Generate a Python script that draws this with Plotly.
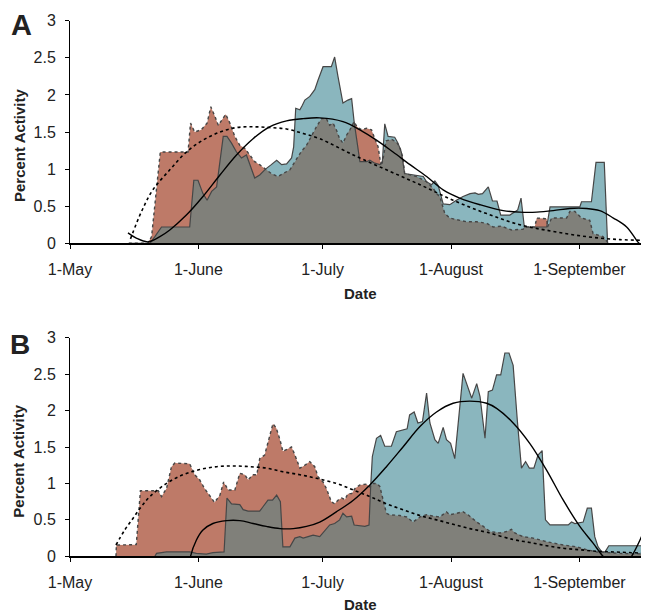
import numpy as np
import plotly.graph_objects as go

# ---------------- data (x = days since 1-May) ----------------
a_red_day = [14.2, 18.8, 19.7, 21.8, 28.5, 29.1, 30.1, 31.7, 33.1, 34.0, 35.0, 35.8, 37.6, 38.6, 39.8, 41.0, 42.2, 43.4, 44.6, 45.8, 47.2, 48.6, 50.2, 51.4, 53.1, 54.3, 55.1, 55.9, 57.1, 58.3, 59.5, 60.7, 61.9, 62.7, 63.5, 64.3, 65.1, 65.9, 66.8, 67.6, 68.6, 69.3, 70.4, 71.6, 72.8, 73.6, 74.4, 75.0, 75.5, 76.3, 77.7, 78.9, 79.6, 80.4, 80.8, 83.7, 86.1, 87.7, 88.5, 89.3, 90.5, 91.7, 93.3, 95.7, 98.2, 100.6, 102.2, 104.2, 106.6, 109.4, 109.8, 112.2, 112.7, 115.1, 115.3, 116.3, 119.9, 120.7, 121.9, 123.5, 125.5, 126.3, 128.7, 129.7, 130.0]
a_red_val = [0, 0, 0.09, 1.23, 1.23, 1.62, 1.50, 1.53, 1.62, 1.84, 1.71, 1.59, 1.74, 1.62, 1.44, 1.32, 1.28, 1.19, 1.10, 1.06, 1.00, 0.94, 0.90, 0.94, 0.99, 1.10, 1.18, 1.24, 1.32, 1.45, 1.57, 1.68, 1.68, 1.59, 1.62, 1.53, 1.41, 1.35, 1.46, 1.53, 1.64, 1.57, 1.53, 1.55, 1.53, 1.41, 1.30, 1.08, 1.10, 1.38, 1.40, 1.36, 1.30, 1.15, 0.94, 0.90, 0.83, 0.74, 0.67, 0.63, 0.40, 0.34, 0.32, 0.29, 0.29, 0.27, 0.22, 0.23, 0.18, 0.19, 0.22, 0.22, 0.34, 0.33, 0.22, 0.34, 0.34, 0.43, 0.43, 0.34, 0.31, 0.13, 0.09, 0.02, 0]

a_blue_day = [14.2, 19.3, 20.5, 22.1, 28.9, 29.9, 30.9, 32.1, 33.1, 34.2, 35.4, 37.0, 37.9, 39.0, 40.2, 41.4, 42.6, 43.8, 44.6, 45.8, 47.2, 48.6, 49.9, 51.1, 52.3, 53.5, 54.0, 54.5, 55.5, 56.1, 56.7, 57.9, 59.1, 59.9, 61.1, 63.1, 63.9, 64.7, 65.9, 67.1, 68.0, 68.6, 70.0, 71.6, 72.4, 73.6, 74.8, 75.4, 76.0, 76.8, 78.4, 79.2, 80.0, 80.8, 83.3, 85.3, 86.1, 87.3, 88.1, 88.9, 90.1, 91.7, 93.3, 94.9, 96.6, 97.8, 98.6, 99.6, 101.0, 102.0, 103.1, 104.0, 106.2, 108.1, 108.9, 109.7, 115.1, 115.9, 123.1, 123.5, 125.9, 127.0, 129.0, 129.8]
a_blue_val = [0, 0, 0.09, 0.22, 0.22, 0.85, 0.85, 0.67, 0.58, 0.70, 0.76, 1.44, 1.44, 1.35, 1.23, 1.15, 1.19, 0.99, 0.88, 0.92, 1.00, 1.06, 1.12, 1.06, 1.07, 1.15, 1.30, 1.82, 1.80, 1.86, 1.93, 1.98, 2.07, 2.20, 2.38, 2.38, 2.51, 2.25, 1.89, 1.93, 1.95, 1.64, 1.10, 1.10, 1.12, 1.08, 1.06, 1.08, 1.61, 1.44, 1.43, 1.35, 1.23, 0.94, 0.92, 0.90, 0.83, 0.79, 0.84, 0.78, 0.53, 0.52, 0.58, 0.63, 0.67, 0.68, 0.66, 0.67, 0.76, 0.57, 0.57, 0.38, 0.38, 0.45, 0.61, 0.22, 0.22, 0.49, 0.49, 0.56, 0.56, 1.09, 1.09, 0]

a_redfit_day = [14.6, 17.2, 20.0, 24.1, 28.1, 32.1, 36.2, 40.2, 44.2, 48.2, 52.3, 56.3, 60.3, 68.4, 76.4, 84.5, 92.5, 100.6, 108.6, 116.7, 124.7, 132.8, 139.8]
a_redfit_val = [0.06, 0.42, 0.72, 0.99, 1.23, 1.39, 1.50, 1.56, 1.57, 1.56, 1.54, 1.48, 1.41, 1.19, 0.99, 0.79, 0.58, 0.40, 0.25, 0.16, 0.09, 0.05, 0.04]

a_bluefit_day = [14.0, 16.0, 18.8, 21.7, 24.1, 28.1, 32.1, 36.2, 40.2, 44.2, 48.2, 52.3, 56.3, 60.3, 65.9, 70.0, 74.0, 78.0, 82.1, 86.1, 90.1, 94.1, 99.0, 104.6, 108.6, 112.7, 116.7, 120.7, 124.7, 127.9, 131.2, 134.4, 136.8, 137.4]
a_bluefit_val = [0.14, 0.07, 0.02, 0.09, 0.18, 0.38, 0.63, 0.92, 1.19, 1.41, 1.57, 1.65, 1.68, 1.69, 1.64, 1.53, 1.39, 1.23, 1.06, 0.90, 0.72, 0.61, 0.52, 0.44, 0.42, 0.42, 0.44, 0.47, 0.47, 0.44, 0.34, 0.22, 0.04, 0.0]

b_red_day = [11.1, 11.2, 16.0, 17.0, 21.3, 22.1, 23.3, 24.5, 25.3, 28.9, 30.1, 31.3, 32.5, 33.7, 34.9, 36.2, 37.1, 38.2, 39.8, 41.0, 42.2, 43.0, 44.2, 45.1, 45.8, 47.0, 47.8, 49.0, 49.8, 50.7, 51.4, 53.5, 54.3, 55.5, 56.7, 57.9, 59.1, 59.9, 61.1, 61.9, 62.5, 63.1, 63.9, 64.7, 65.6, 66.4, 67.1, 68.0, 68.8, 70.0, 71.6, 72.4, 73.2, 74.0, 74.8, 75.6, 76.4, 77.2, 79.6, 81.3, 82.8, 84.5, 86.1, 87.7, 89.3, 90.9, 91.7, 93.3, 94.9, 96.1, 98.2, 99.8, 101.4, 103.8, 105.4, 106.6, 107.4, 109.4, 111.8, 115.1, 119.1, 122.3, 124.7, 127.2, 129.6, 132.8, 139.8]
b_red_val = [0, 0.155, 0.16, 0.90, 0.90, 0.82, 0.93, 1.23, 1.28, 1.27, 1.12, 1.05, 0.93, 0.84, 0.74, 0.84, 1.02, 0.91, 0.91, 1.14, 1.12, 1.05, 1.12, 1.12, 1.34, 1.39, 1.55, 1.82, 1.76, 1.60, 1.44, 1.50, 1.39, 1.21, 1.25, 1.30, 1.23, 1.09, 1.02, 0.93, 0.84, 0.75, 0.72, 0.77, 0.80, 0.78, 0.86, 0.86, 0.93, 0.98, 0.99, 0.95, 1.00, 1.00, 0.96, 0.77, 0.59, 0.57, 0.56, 0.54, 0.47, 0.54, 0.57, 0.55, 0.54, 0.61, 0.57, 0.59, 0.61, 0.57, 0.47, 0.41, 0.34, 0.32, 0.34, 0.37, 0.32, 0.27, 0.25, 0.20, 0.155, 0.13, 0.09, 0.06, 0.05, 0.04, 0.03]

b_blue_day = [20.5, 20.9, 23.3, 28.9, 30.5, 32.9, 34.5, 36.6, 37.2, 37.9, 39.0, 41.0, 41.8, 43.0, 45.8, 46.6, 47.8, 48.9, 49.9, 50.8, 51.4, 53.1, 54.3, 55.5, 56.3, 57.5, 58.7, 60.3, 61.1, 62.7, 63.9, 65.1, 65.9, 66.8, 68.0, 68.6, 71.2, 72.2, 72.6, 73.0, 74.0, 75.0, 76.0, 77.6, 78.8, 80.4, 81.4, 82.0, 83.1, 84.0, 85.1, 86.1, 86.9, 88.1, 88.9, 90.1, 90.9, 91.9, 92.9, 94.9, 96.1, 97.0, 98.2, 99.0, 100.2, 101.0, 102.0, 103.0, 104.0, 105.0, 106.0, 107.0, 108.0, 109.0, 110.0, 110.9, 112.0, 113.0, 114.0, 114.8, 115.9, 120.3, 121.1, 121.9, 123.9, 124.9, 125.9, 126.7, 127.5, 128.4, 129.2, 130.1, 138.8, 139.6]
b_blue_val = [0, 0.04, 0.06, 0.06, 0.04, 0.03, 0.05, 0.06, 0.06, 0.80, 0.72, 0.71, 0.64, 0.62, 0.62, 0.68, 0.77, 0.77, 0.84, 0.75, 0.13, 0.13, 0.25, 0.27, 0.25, 0.27, 0.29, 0.27, 0.32, 0.43, 0.45, 0.50, 0.59, 0.54, 0.55, 0.43, 0.41, 0.43, 0.96, 1.37, 1.62, 1.66, 1.51, 1.51, 1.71, 1.73, 1.75, 1.94, 1.98, 1.83, 1.85, 2.24, 1.83, 1.60, 1.55, 1.77, 1.60, 1.55, 1.34, 2.51, 2.33, 2.17, 2.37, 2.19, 1.62, 2.26, 2.28, 2.49, 2.49, 2.79, 2.79, 2.62, 1.87, 1.21, 1.30, 1.21, 1.21, 1.39, 1.45, 0.50, 0.43, 0.43, 0.47, 0.45, 0.47, 0.66, 0.66, 0.27, 0.13, 0.06, 0.06, 0.145, 0.145, 0.04]

b_redfit_day = [11.1, 13.2, 15.2, 17.2, 19.3, 23.3, 27.3, 31.3, 35.4, 39.4, 43.4, 47.4, 51.4, 55.5, 59.5, 64.3, 68.4, 72.4, 76.4, 80.4, 84.5, 88.5, 92.5, 96.5, 100.6, 107.0, 111.0, 115.1, 119.1, 123.1, 127.1, 131.2, 139.8]
b_redfit_val = [0.155, 0.36, 0.52, 0.68, 0.82, 1.00, 1.12, 1.19, 1.23, 1.24, 1.23, 1.21, 1.16, 1.12, 1.07, 1.00, 0.91, 0.82, 0.72, 0.64, 0.56, 0.50, 0.44, 0.38, 0.33, 0.23, 0.19, 0.145, 0.11, 0.09, 0.07, 0.06, 0.04]

b_bluefit_day = [28.3, 29.1, 30.5, 32.1, 34.5, 37.8, 41.0, 44.2, 47.4, 50.7, 53.9, 57.1, 60.3, 64.3, 68.4, 72.4, 76.4, 80.4, 84.5, 88.5, 92.5, 96.5, 100.6, 103.0, 107.0, 111.0, 115.1, 119.1, 123.1, 126.3, 128.7, 130.9, 132.8, 134.5, 135.6, 137.6, 139.6, 140.7]
b_bluefit_val = [-0.3, 0.0, 0.22, 0.36, 0.45, 0.49, 0.49, 0.45, 0.41, 0.38, 0.38, 0.41, 0.47, 0.61, 0.77, 0.98, 1.23, 1.50, 1.78, 1.98, 2.10, 2.13, 2.10, 2.03, 1.83, 1.55, 1.18, 0.77, 0.41, 0.18, 0.0, -0.12, -0.15, -0.08, 0.0, 0.22, 0.50, 0.65]

tick_days = [0, 31, 61, 92, 123]
tick_text = ["1-May", "1-June", "1-July", "1-August", "1-September"]
y_ticks = [0, 0.5, 1, 1.5, 2, 2.5, 3]
y_text = ["0", "0.5", "1", "1.5", "2", "2.5", "3"]

# ---------------- styling ----------------
RED = "rgb(190,122,104)"
BLUE = "rgb(138,182,190)"
GRAY = "rgb(128,128,122)"
EDGE = "rgb(70,70,70)"
FONT = "Arial, 'Liberation Sans', sans-serif"


def overlap(x1, y1, x2, y2):
    """Area shared by both series (lower envelope), for the gray overlap fill."""
    xs = np.array(sorted(set(x1) | set(x2)))
    a = np.interp(xs, x1, y1, left=0, right=0)
    b = np.interp(xs, x2, y2, left=0, right=0)
    ox, oy = [], []
    for i in range(len(xs)):
        if i > 0:
            d0 = a[i - 1] - b[i - 1]
            d1 = a[i] - b[i]
            if d0 * d1 < 0:
                t = d0 / (d0 - d1)
                ox.append(xs[i - 1] + t * (xs[i] - xs[i - 1]))
                oy.append(a[i - 1] + t * (a[i] - a[i - 1]))
        ox.append(xs[i])
        oy.append(min(a[i], b[i]))
    return ox, oy


fig = go.Figure()


def add_panel(xa, ya, rd, rv, bd, bv, rfd, rfv, bfd, bfv):
    common = dict(xaxis=xa, yaxis=ya, showlegend=False, hoverinfo="skip")
    fig.add_trace(go.Scatter(x=rd, y=rv, mode="lines", fill="tozeroy", fillcolor=RED,
                             line=dict(width=0), **common))
    fig.add_trace(go.Scatter(x=bd, y=bv, mode="lines", fill="tozeroy", fillcolor=BLUE,
                             line=dict(width=0), **common))
    ox, oy = overlap(rd, rv, bd, bv)
    fig.add_trace(go.Scatter(x=ox, y=oy, mode="lines", fill="tozeroy", fillcolor=GRAY,
                             line=dict(width=0), **common))
    fig.add_trace(go.Scatter(x=rd, y=rv, mode="lines",
                             line=dict(color=EDGE, width=1.4, dash="dot"), **common))
    fig.add_trace(go.Scatter(x=bd, y=bv, mode="lines",
                             line=dict(color=EDGE, width=1.2), **common))
    fig.add_trace(go.Scatter(x=rfd, y=rfv, mode="lines",
                             line=dict(color="black", width=1.6, dash="dot", shape="spline", smoothing=1.0),
                             **common))
    fig.add_trace(go.Scatter(x=bfd, y=bfv, mode="lines",
                             line=dict(color="black", width=1.4, shape="spline", smoothing=1.0),
                             **common))


add_panel("x", "y", a_red_day, a_red_val, a_blue_day, a_blue_val,
          a_redfit_day, a_redfit_val, a_bluefit_day, a_bluefit_val)
add_panel("x2", "y2", b_red_day, b_red_val, b_blue_day, b_blue_val,
          b_redfit_day, b_redfit_val, b_bluefit_day, b_bluefit_val)

# The page body has an 8px margin, so the figure is sized/offset to compensate.
OFF = 8
W, H = 649 - OFF, 615 - OFF
L = 70 - OFF
xaxis_style = dict(range=[0, 139.8], tickvals=tick_days, ticktext=tick_text, showgrid=False,
                   zeroline=False, showline=True, linecolor="black", linewidth=1.5,
                   ticks="outside", ticklen=4, tickcolor="black", tickwidth=1,
                   ticklabelstandoff=7, tickfont=dict(size=16, color="#222", family=FONT),
                   domain=[0, 1], automargin=False)
yaxis_style = dict(range=[0, 3], tickvals=y_ticks, ticktext=y_text, showgrid=False,
                   zeroline=False, showline=True, linecolor="black", linewidth=1,
                   ticks="outside", ticklen=4, tickcolor="black", tickwidth=1,
                   ticklabelstandoff=6, tickfont=dict(size=16, color="#222", family=FONT),
                   automargin=False)


def py(pix):
    return (H - (pix - OFF)) / H


def px(pix):
    return (pix - OFF - L) / (W - L)


fig.update_layout(
    template="none",
    width=W, height=H,
    margin=dict(l=L, r=0, t=0, b=0, pad=0, autoexpand=False),
    paper_bgcolor="white", plot_bgcolor="white",
    font=dict(family=FONT, color="#222"),
    xaxis=dict(anchor="y", **xaxis_style),
    yaxis=dict(anchor="x", domain=[py(243.3), py(20.7)], **yaxis_style),
    xaxis2=dict(anchor="y2", **xaxis_style),
    yaxis2=dict(anchor="x2", domain=[py(556.3), py(337.7)], **yaxis_style),
)

ann = []
for txt, x, y, size, ang in [
    ("<b>A</b>", 21, 25, 29, 0),
    ("<b>B</b>", 20, 344, 28, 0),
    ("<b>Percent Activity</b>", 19, 146, 15, -90),
    ("<b>Percent Activity</b>", 19, 461.7, 15, -90),
    ("<b>Date</b>", 360, 293, 15, 0),
    ("<b>Date</b>", 360, 604, 15, 0),
]:
    ann.append(dict(text=txt, xref="paper", yref="paper", x=px(x), y=py(y),
                    xanchor="center", yanchor="middle", showarrow=False, textangle=ang,
                    font=dict(size=size, color="#222", family=FONT)))
fig.update_layout(annotations=ann)

fig.write_html("out.html")
